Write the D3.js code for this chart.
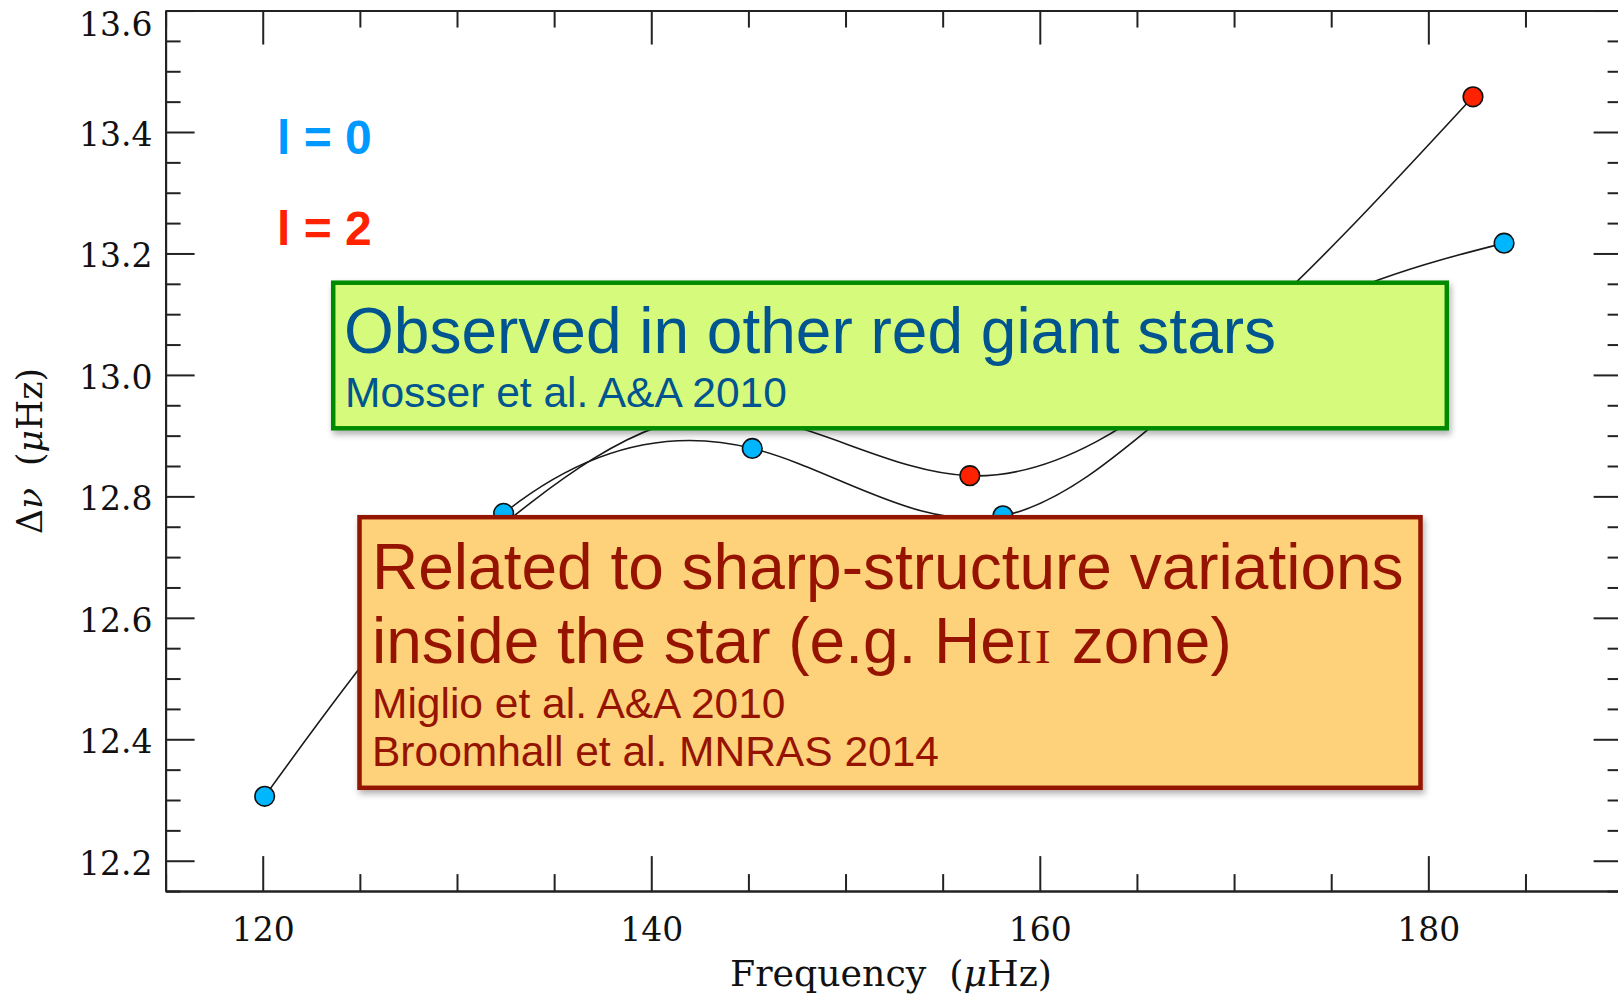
<!DOCTYPE html>
<html>
<head>
<meta charset="utf-8">
<script src="https://cdn.jsdelivr.net/npm/d3@7"></script>
<style>
  body { margin: 0; background: #fff; }
  svg { display: block; }
  .axis path, .axis line { stroke: #222; stroke-width: 2; }
  .axis text { font-family: "DejaVu Serif", serif; font-size: 33px; fill: #111; }
</style>
</head>
<body>
<div id="container"></div>
<script>
const WIDTH = 1618;
const HEIGHT = 995;

// l = 0 modes (blue); the point near 171 sits behind the green box
const freqL0 = [120.1, 132.4, 145.2, 158.1, 171.0, 183.9];
const dnuL0 = [12.306, 12.772, 12.879, 12.768, 13.05, 13.217];
// l = 2 modes (red); the points near 130.7, 143.4 and 169.4 are hidden by the boxes
const freqL2 = [130.7, 143.4, 156.4, 169.4, 182.3];
const dnuL2 = [12.71, 12.935, 12.834, 13.04, 13.458];

const xMajor = [120, 140, 160, 180];
const xMinor = d3.range(115, 191, 5).filter(v => v % 20 !== 0);
const yMajor = [12.2, 12.4, 12.6, 12.8, 13.0, 13.2, 13.4, 13.6];
const yMinor = d3.range(12.15, 13.6, 0.05).map(v => +v.toFixed(2)).filter(v => Math.round(v * 100) % 20 !== 0);

const svg = d3.select('#container').append('svg')
    .attr('width', WIDTH)
    .attr('height', HEIGHT);

const defs = svg.append('defs');
defs.append('filter').attr('id', 'shadow')
    .attr('x', '-5%').attr('y', '-10%').attr('width', '110%').attr('height', '125%')
    .append('feDropShadow')
    .attr('dx', 2).attr('dy', 4).attr('stdDeviation', 3)
    .attr('flood-color', '#000').attr('flood-opacity', 0.3);

// Scales
const x = d3.scaleLinear().domain([115, 190]).range([165.6, 1622.6]);
const y = d3.scaleLinear().domain([12.15, 13.6]).range([891.1, 10.55]);
const X0 = x.range()[0], X1 = x.range()[1];
const Y0 = y.range()[0], Y1 = y.range()[1];

// Axes: bottom / top
const fmtX = d3.format('d');
svg.append('g').attr('class', 'axis')
    .attr('transform', 'translate(0,' + Y0 + ')')
    .call(d3.axisBottom(x).tickValues(xMinor).tickSize(-17).tickSizeOuter(0).tickFormat(''));
const xb = svg.append('g').attr('class', 'axis')
    .attr('transform', 'translate(0,' + Y0 + ')')
    .call(d3.axisBottom(x).tickValues(xMajor).tickSize(-35).tickSizeOuter(0).tickFormat(fmtX));
xb.selectAll('text').attr('dy', null).attr('y', 50);

svg.append('g').attr('class', 'axis')
    .attr('transform', 'translate(0,' + Y1 + ')')
    .call(d3.axisTop(x).tickValues(xMinor).tickSize(-17).tickSizeOuter(0).tickFormat(''));
svg.append('g').attr('class', 'axis')
    .attr('transform', 'translate(0,' + Y1 + ')')
    .call(d3.axisTop(x).tickValues(xMajor).tickSize(-34).tickSizeOuter(0).tickFormat(''));

// Axes: left / right
svg.append('g').attr('class', 'axis')
    .attr('transform', 'translate(' + X0 + ',0)')
    .call(d3.axisLeft(y).tickValues(yMinor).tickSize(-15).tickSizeOuter(0).tickFormat(''));
const yl = svg.append('g').attr('class', 'axis')
    .attr('transform', 'translate(' + X0 + ',0)')
    .call(d3.axisLeft(y).tickValues(yMajor).tickSize(-29).tickSizeOuter(0).tickPadding(13).tickFormat(d3.format('.1f')));
yl.selectAll('text').attr('dy', '0.41em')
    .attr('y', d => d === 13.6 ? 11 : 0);

svg.append('g').attr('class', 'axis')
    .attr('transform', 'translate(' + X1 + ',0)')
    .call(d3.axisRight(y).tickValues(yMinor).tickSize(-15).tickSizeOuter(0).tickFormat(''));
svg.append('g').attr('class', 'axis')
    .attr('transform', 'translate(' + X1 + ',0)')
    .call(d3.axisRight(y).tickValues(yMajor).tickSize(-29).tickSizeOuter(0).tickFormat(''));

// Axis titles
const xt = svg.append('text')
    .attr('x', 891).attr('y', 986)
    .attr('text-anchor', 'middle')
    .style('white-space', 'pre')
    .style('font-family', '"DejaVu Serif", serif').style('font-size', '35px').style('fill', '#111')
    .attr('textLength', 322).attr('lengthAdjust', 'spacingAndGlyphs');
xt.append('tspan').text('Frequency  (');
xt.append('tspan').style('font-style', 'italic').text('μ');
xt.append('tspan').text('Hz)');

const yt = svg.append('text')
    .attr('transform', 'translate(42,451) rotate(-90)')
    .attr('text-anchor', 'middle')
    .style('white-space', 'pre')
    .style('font-family', '"DejaVu Serif", serif').style('font-size', '36px').style('fill', '#111')
    .attr('textLength', 166).attr('lengthAdjust', 'spacingAndGlyphs');
yt.append('tspan').text('Δ');
yt.append('tspan').style('font-style', 'italic').text('ν');
yt.append('tspan').text('  (');
yt.append('tspan').style('font-style', 'italic').text('μ');
yt.append('tspan').text('Hz)');

// Curves
const line = d3.line().x(d => x(d[0])).y(d => y(d[1])).curve(d3.curveNatural);
const seriesL0 = freqL0.map((f, i) => [f, dnuL0[i]]);
const seriesL2 = freqL2.map((f, i) => [f, dnuL2[i]]);

[seriesL2, seriesL0].forEach(s => {
  svg.append('path')
      .datum(s)
      .attr('d', line)
      .attr('fill', 'none')
      .attr('stroke', '#1a1a1a')
      .attr('stroke-width', 1.6);
});

svg.append('g').selectAll('circle')
    .data(seriesL2)
    .join('circle')
    .attr('cx', d => x(d[0])).attr('cy', d => y(d[1]))
    .attr('r', 9.8)
    .attr('fill', '#ff2200').attr('stroke', '#111').attr('stroke-width', 1.6);
svg.append('g').selectAll('circle')
    .data(seriesL0)
    .join('circle')
    .attr('cx', d => x(d[0])).attr('cy', d => y(d[1]))
    .attr('r', 9.8)
    .attr('fill', '#00b6ff').attr('stroke', '#111').attr('stroke-width', 1.6);

// Legend labels
svg.append('text').attr('x', 277).attr('y', 154)
    .style('font-family', '"Liberation Sans", Arial, sans-serif').style('font-weight', 'bold')
    .style('font-size', '48px').style('fill', '#0099ff')
    .text('l = 0');
svg.append('text').attr('x', 277).attr('y', 245)
    .style('font-family', '"Liberation Sans", Arial, sans-serif').style('font-weight', 'bold')
    .style('font-size', '48px').style('fill', '#ff2200')
    .text('l = 2');

// Annotation boxes
const SANS = '"Liberation Sans", Arial, sans-serif';
svg.append('rect')
    .attr('x', 333.2).attr('y', 282.7).attr('width', 1113.6).attr('height', 145.6)
    .attr('fill', '#d6fa7c').attr('stroke', '#008a00').attr('stroke-width', 4.5)
    .attr('filter', 'url(#shadow)');
svg.append('text').attr('x', 344).attr('y', 353)
    .style('font-family', SANS).style('font-size', '64px').style('fill', '#00548f')
    .text('Observed in other red giant stars');
svg.append('text').attr('x', 345).attr('y', 407)
    .style('font-family', SANS).style('font-size', '42.5px').style('fill', '#00548f')
    .text('Mosser et al. A&A 2010');

svg.append('rect')
    .attr('x', 359.5).attr('y', 517.2).attr('width', 1061).attr('height', 270.6)
    .attr('fill', '#fdd27a').attr('stroke', '#951300').attr('stroke-width', 4.5)
    .attr('filter', 'url(#shadow)');
const RED_TEXT = '#951300';
svg.append('text').attr('x', 372).attr('y', 589)
    .style('font-family', SANS).style('font-size', '64px').style('fill', RED_TEXT)
    .text('Related to sharp-structure variations');
const he = svg.append('text').attr('x', 372).attr('y', 663)
    .style('font-family', SANS).style('font-size', '64px').style('fill', RED_TEXT);
he.append('tspan').text('inside the star (e.g. He');
he.append('tspan').style('font-family', '"Liberation Serif", serif').style('font-size', '48px')
    .style('letter-spacing', '3px').text('II');
he.append('tspan').text(' zone)');
svg.append('text').attr('x', 372).attr('y', 718)
    .style('font-family', SANS).style('font-size', '42.5px').style('fill', RED_TEXT)
    .text('Miglio et al. A&A 2010');
svg.append('text').attr('x', 372).attr('y', 766)
    .style('font-family', SANS).style('font-size', '42.5px').style('fill', RED_TEXT)
    .text('Broomhall et al. MNRAS 2014');
</script>
</body>
</html>
